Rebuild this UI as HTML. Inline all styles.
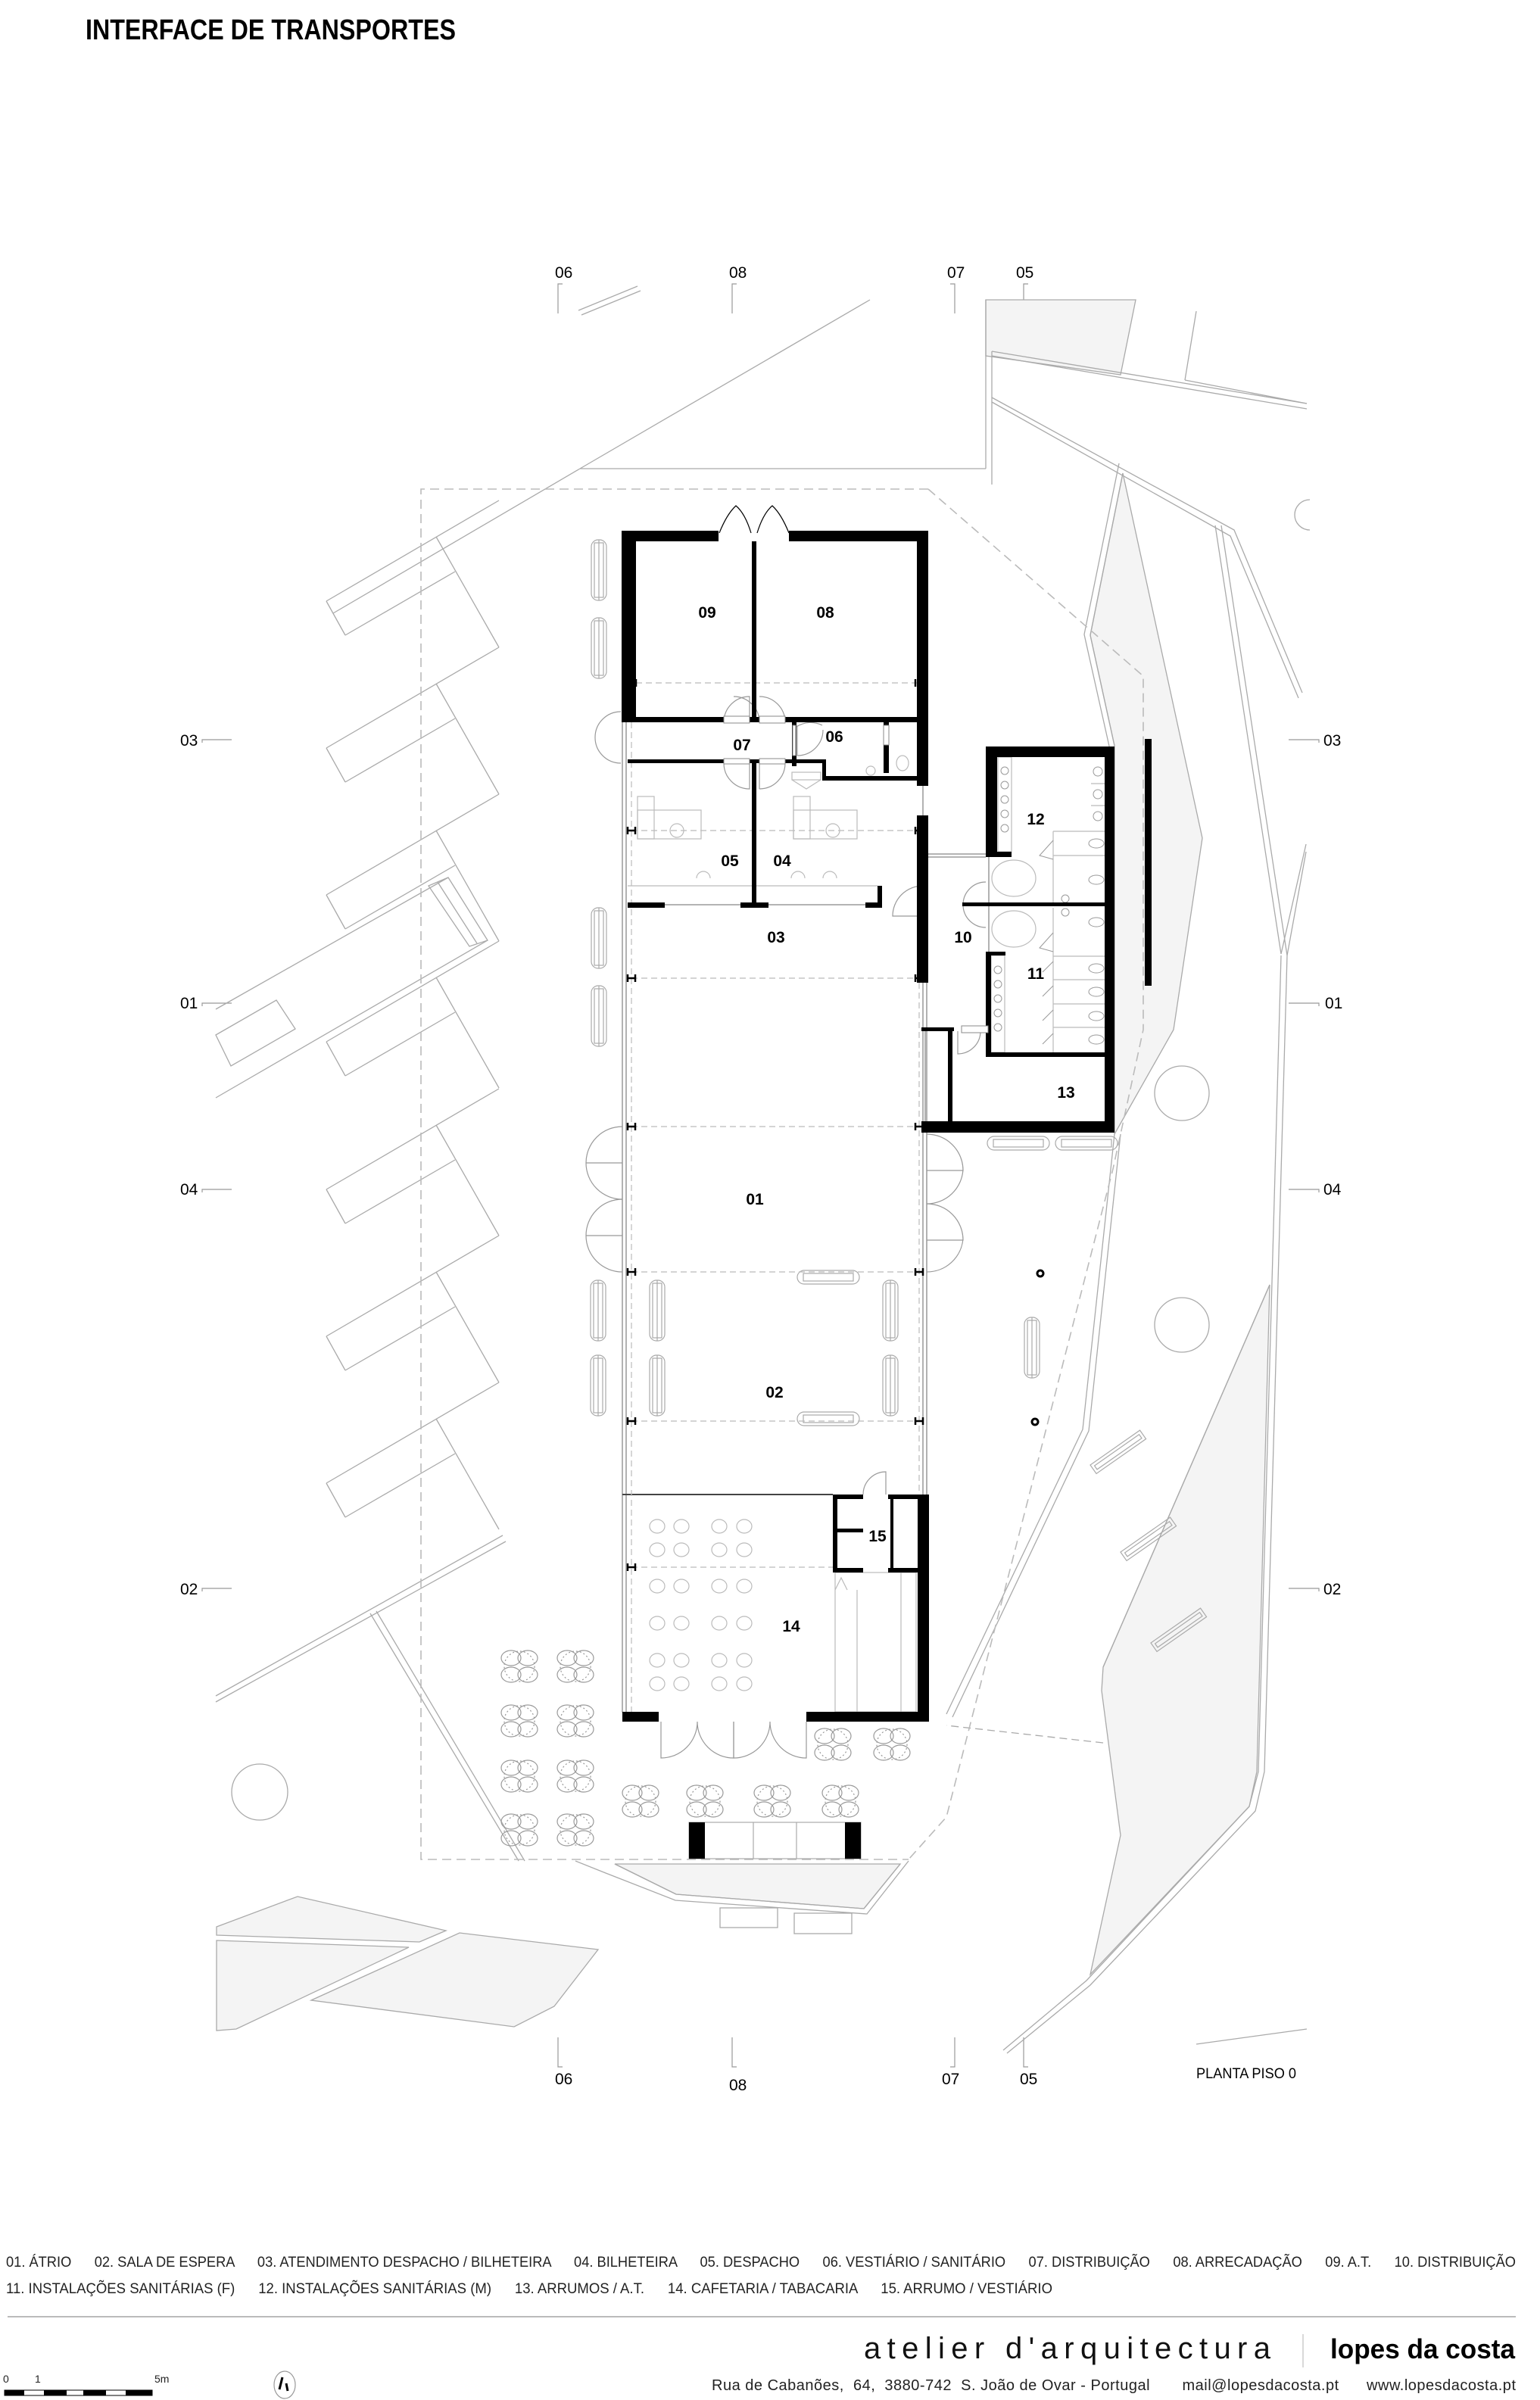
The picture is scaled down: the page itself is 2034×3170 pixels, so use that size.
<!DOCTYPE html>
<html><head><meta charset="utf-8"><style>
html,body{margin:0;padding:0;background:#fff;}
svg{display:block;}
text{font-family:"Liberation Sans",Arial,sans-serif;white-space:pre;}
</style></head><body>
<svg width="2034" height="3170" viewBox="0 0 2034 3170" xmlns="http://www.w3.org/2000/svg" xml:space="preserve">
<defs>
<g id="pk" fill="none" stroke="#aaa" stroke-width="1.3">
<line x1="431" y1="0" x2="659" y2="-133"/><line x1="576" y1="-85" x2="659" y2="61"/>
<line x1="456" y1="45" x2="601" y2="-39"/><line x1="431" y1="0" x2="456" y2="45"/>
</g>
<g id="fl" fill="none" stroke="#999" stroke-width="1.2">
<ellipse cx="-11" cy="-11" rx="13" ry="10"/><ellipse cx="11" cy="-11" rx="13" ry="10"/>
<ellipse cx="-11" cy="11" rx="13" ry="10"/><ellipse cx="11" cy="11" rx="13" ry="10"/>
<ellipse cx="0" cy="0" rx="20" ry="20" stroke-dasharray="2 3"/>
</g>
<g id="tb" fill="none" stroke="#bbb" stroke-width="1.2"><ellipse cx="0" cy="0" rx="10" ry="9"/></g>
<g id="bv" fill="none" stroke="#aaa" stroke-width="1.2"><rect x="-10" y="0" width="20" height="80" rx="9"/><rect x="-6" y="4" width="12" height="72"/><line x1="0" y1="0" x2="0" y2="80"/></g>
<g id="bh" fill="none" stroke="#aaa" stroke-width="1.2"><rect x="0" y="-9" width="82" height="18" rx="9"/><rect x="8" y="-5" width="66" height="10"/></g>
</defs>

<text x="113" y="52" font-size="38" font-weight="bold" textLength="489" lengthAdjust="spacingAndGlyphs">INTERFACE DE TRANSPORTES</text>

<g font-size="21" fill="#000">
<text x="733" y="367">06</text><text x="963" y="367">08</text><text x="1251" y="367">07</text><text x="1342" y="367">05</text>
<text x="733" y="2753">06</text><text x="963" y="2761">08</text><text x="1244" y="2753">07</text><text x="1347" y="2753">05</text>
<text x="238" y="985">03</text><text x="238" y="1332">01</text><text x="238" y="1578">04</text><text x="238" y="2106">02</text>
<text x="1748" y="985">03</text><text x="1750" y="1332">01</text><text x="1748" y="1578">04</text><text x="1748" y="2106">02</text>
</g>
<g stroke="#999" stroke-width="1.2" fill="none">
<polyline points="743,375 737,375 737,414"/><polyline points="973,375 967,375 967,414"/>
<polyline points="1255,375 1261,375 1261,414"/><polyline points="1358,375 1352,375 1352,414"/>
<polyline points="737,2691 737,2730 743,2730"/><polyline points="967,2691 967,2730 973,2730"/>
<polyline points="1261,2691 1261,2730 1255,2730"/><polyline points="1352,2691 1352,2730 1358,2730"/>
<polyline points="267,981 267,977 306,977"/><polyline points="267,1329 267,1325 306,1325"/>
<polyline points="267,1575 267,1571 306,1571"/><polyline points="267,2102 267,2098 306,2098"/>
<polyline points="1702,977 1742,977 1742,981"/><polyline points="1702,1325 1742,1325 1742,1329"/>
<polyline points="1702,1571 1742,1571 1742,1575"/><polyline points="1702,2098 1742,2098 1742,2102"/>
</g>

<g fill="#f4f4f4" stroke="#aaa" stroke-width="1.3">
<polygon points="1302,396 1500,396 1480,495 1302,470"/>
<polygon points="1483,625 1588,1107 1550,1360 1472,1498 1472,985 1440,839"/>
<polygon points="1677,1697 1660,2340 1650,2386 1440,2608 1480,2424 1455,2233 1457,2202"/>
<polygon points="812,2462 1189,2462 1141,2521 893,2502"/>
<polygon points="286,2545 393,2505 589,2550 554,2565 286,2556"/>
<polygon points="286,2563 540,2572 312,2680 286,2682"/>
<polygon points="411,2642 607,2553 790,2575 732,2650 679,2677"/>
</g>

<g fill="none" stroke="#aaa" stroke-width="1.3">
<line x1="1149" y1="396" x2="766" y2="619"/><line x1="766" y1="619" x2="440" y2="810"/>
<line x1="766" y1="619" x2="1302" y2="619"/>
<line x1="1302" y1="396" x2="1302" y2="619"/>
<line x1="1310" y1="464" x2="1310" y2="640"/>
<line x1="768" y1="416" x2="846" y2="384"/><line x1="764" y1="410" x2="842" y2="378"/>
<line x1="1310" y1="464" x2="1726" y2="533"/><line x1="1310" y1="470" x2="1726" y2="540"/>
<polyline points="1310,525 1630,700 1720,915"/><polyline points="1310,531 1625,708 1715,922"/>
<line x1="1580" y1="411" x2="1565" y2="502"/><line x1="1565" y1="502" x2="1726" y2="533"/>
<polyline points="1605,694 1692,1260 1725,1115"/><polyline points="1613,694 1700,1262 1725,1125"/>
<polyline points="1692,1262 1662,2340 1650,2386 1435,2616 1325,2708"/>
<polyline points="1700,1262 1670,2340 1658,2392 1440,2622 1330,2712"/>
<polyline points="1483,625 1440,839 1472,985"/><polyline points="1478,612 1432,838 1466,990"/>
<polyline points="1472,1498 1430,1888 1250,2264"/><polyline points="1480,1498 1438,1890 1258,2268"/>
<polyline points="1457,2202 1677,1697"/>
<line x1="285" y1="2240" x2="664" y2="2028"/><line x1="285" y1="2248" x2="668" y2="2036"/>
<line x1="489" y1="2131" x2="685" y2="2458"/><line x1="497" y1="2128" x2="693" y2="2458"/>
<line x1="285" y1="1333" x2="592" y2="1159"/><line x1="285" y1="1450" x2="644" y2="1242"/>
<polygon points="566,1170 592,1159 644,1242 620,1250"/><line x1="578" y1="1165" x2="630" y2="1246"/>
<polygon points="285,1367 365,1321 390,1359 305,1408"/>
<polyline points="812,2462 893,2502 1141,2521 1189,2462"/>
<polyline points="760,2458 800,2474 892,2510 1145,2528 1200,2458"/>
<rect x="951" y="2520" width="76" height="26"/><rect x="1049" y="2527" width="76" height="27"/>
<polyline points="1580,2700 1726,2680"/>
<line x1="1457" y1="2302" x2="1250" y2="2279" stroke-dasharray="10 6"/>
<path d="M1730,660 a20,20 0 0 0 0,40"/>
</g>
<use href="#pk" y="794"/><use href="#pk" y="988"/><use href="#pk" y="1182"/><use href="#pk" y="1376"/>
<use href="#pk" y="1571"/><use href="#pk" y="1765"/><use href="#pk" y="1959"/>

<g fill="none" stroke="#bbb" stroke-width="1.6" stroke-dasharray="12 7">
<polyline points="1226,646 556,646 556,2456 1200,2456"/>
<polyline points="1226,646 1510,893 1510,1360 1470,1544 1250,2400 1200,2456"/>
</g>

<g fill="none" stroke="#aaa" stroke-width="1.3">
<circle cx="1561" cy="1444" r="36"/><circle cx="1561" cy="1750" r="36"/><circle cx="343" cy="2367" r="37"/>
</g>

<use href="#bv" x="791" y="713"/><use href="#bv" x="791" y="816"/><use href="#bv" x="791" y="1199"/><use href="#bv" x="791" y="1302"/>
<use href="#bv" x="790" y="1691"/><use href="#bv" x="790" y="1790"/>
<use href="#bv" x="868" y="1691"/><use href="#bv" x="868" y="1790"/>
<use href="#bv" x="1176" y="1691"/><use href="#bv" x="1176" y="1790"/>
<use href="#bv" x="1363" y="1740"/>
<use href="#bh" x="1053" y="1687"/><use href="#bh" x="1053" y="1874"/>
<use href="#bh" x="1304" y="1510"/><use href="#bh" x="1394" y="1510"/>
<g fill="none" stroke="#aaa" stroke-width="1.2">
<g transform="translate(1440,1935) rotate(-35)"><rect x="0" y="0" width="80" height="14"/><rect x="4" y="4" width="72" height="6"/></g>
<g transform="translate(1480,2050) rotate(-35)"><rect x="0" y="0" width="80" height="14"/><rect x="4" y="4" width="72" height="6"/></g>
<g transform="translate(1520,2170) rotate(-35)"><rect x="0" y="0" width="80" height="14"/><rect x="4" y="4" width="72" height="6"/></g>
</g>
<g stroke="#000" stroke-width="3" fill="none"><circle cx="1374" cy="1682" r="4"/><circle cx="1367" cy="1878" r="4"/></g>

<g stroke="#888" stroke-width="1.3" fill="none">
<line x1="822" y1="954" x2="822" y2="2262"/><line x1="827" y1="954" x2="827" y2="2262"/>
<line x1="1219" y1="1298" x2="1219" y2="1974"/><line x1="1224" y1="1298" x2="1224" y2="1974"/>
<line x1="1219" y1="1038" x2="1219" y2="1077"/>
<line x1="822" y1="1974" x2="1100" y2="1974" stroke="#444" stroke-width="2"/>
<line x1="878" y1="1195" x2="1143" y2="1195"/>
<line x1="1226" y1="1128" x2="1302" y2="1128"/><line x1="1226" y1="1132" x2="1302" y2="1132"/>
<line x1="1306" y1="1130" x2="1306" y2="1257"/>
<line x1="1222" y1="1362" x2="1222" y2="1481"/>
</g>
<g stroke="#bbb" stroke-width="1.2" stroke-dasharray="8 5" fill="none">
<line x1="840" y1="902" x2="1211" y2="902"/><line x1="834" y1="1097" x2="1214" y2="1097"/>
<line x1="834" y1="1292" x2="1214" y2="1292"/><line x1="834" y1="1488" x2="1214" y2="1488"/>
<line x1="834" y1="1680" x2="1214" y2="1680"/><line x1="834" y1="1877" x2="1214" y2="1877"/>
<line x1="834" y1="2070" x2="1100" y2="2070"/>
<line x1="834" y1="954" x2="834" y2="2262"/><line x1="1214" y1="1298" x2="1214" y2="1974"/>
</g>
<g stroke="#000" stroke-width="2.5">
<path d="M829,1092v10M839,1092v10M829,1097h10 M1209,1092v10M1219,1092v10M1209,1097h10"/>
<path d="M829,1287v10M839,1287v10M829,1292h10 M1209,1287v10M1219,1287v10M1209,1292h10"/>
<path d="M829,1483v10M839,1483v10M829,1488h10 M1209,1483v10M1219,1483v10M1209,1488h10"/>
<path d="M829,1675v10M839,1675v10M829,1680h10 M1209,1675v10M1219,1675v10M1209,1680h10"/>
<path d="M829,1872v10M839,1872v10M829,1877h10 M1209,1872v10M1219,1872v10M1209,1877h10"/>
<path d="M829,2065v10M839,2065v10M829,2070h10"/>
<path d="M840,897v10 M1209,897v10"/>
</g>

<g fill="none" stroke="#999" stroke-width="1.2">
<path d="M822,1488 a48,48 0 0 0 -48,48 h48 M822,1584 a48,48 0 0 1 -48,-48"/>
<path d="M822,1584 a48,48 0 0 0 -48,48 h48 M822,1680 a48,48 0 0 1 -48,-48"/>
<path d="M1224,1498 a48,48 0 0 1 48,48 h-48 M1224,1590 a48,48 0 0 0 48,-46"/>
<path d="M1224,1590 a48,48 0 0 1 48,48 h-48 M1224,1680 a48,48 0 0 0 48,-44"/>
<path d="M873,2274 v48 a48,48 0 0 0 48,-48 M969,2274 v48 a48,48 0 0 1 -48,-48"/>
<path d="M969,2274 v48 a48,48 0 0 0 48,-48 M1065,2274 v48 a48,48 0 0 1 -48,-48"/>
<path d="M956,954 a34,34 0 0 1 34,-34 v34 M1003,954 a34,34 0 0 0 -34,-34"/>
<path d="M1003,920 a34,34 0 0 1 34,34"/>
<path d="M956,1008 a34,34 0 0 0 34,34 v-34 M1003,1042 a34,34 0 0 0 34,-34"/>
<path d="M1003,1008 v34"/>
<path d="M1052,960 a34,34 0 0 1 34,-2 M1053,958 v40 a34,34 0 0 0 34,-34"/>
<path d="M1219,1170 a40,40 0 0 0 -40,40 h40"/>
<path d="M1302,1165 a30,30 0 0 0 -30,30 h30 M1302,1225 a30,30 0 0 1 -30,-30"/>
<path d="M1265,1362 v30 a30,30 0 0 0 30,-30"/>
<path d="M1140,1974 a30,30 0 0 1 30,-30 v30"/>
<path d="M950,704 q10,-25 22,-36 q12,10 20,36 M1042,704 q-10,-25 -22,-36 q-12,10 -20,36" stroke="#000"/>
<path d="M820,940 a34,34 0 0 0 -34,34 M820,1008 a34,34 0 0 1 -34,-34"/>
</g>
<g fill="none" stroke="#bbb" stroke-width="1.2">
<rect x="842" y="1070" width="84" height="38"/><rect x="842" y="1052" width="22" height="56"/><circle cx="894" cy="1097" r="9"/>
<rect x="1048" y="1070" width="84" height="38"/><rect x="1048" y="1052" width="22" height="56"/><circle cx="1100" cy="1097" r="9"/>
<path d="M920,1160 a9,9 0 0 1 18,0 M1045,1160 a9,9 0 0 1 18,0 M1087,1160 a9,9 0 0 1 18,0"/>
<line x1="829" y1="1170" x2="1159" y2="1170"/>
<rect x="1046" y="1020" width="38" height="10"/>
<path d="M1046,1030 l19,12 l19,-12"/>
<circle cx="1150" cy="1018" r="6"/><ellipse cx="1192" cy="1008" rx="8" ry="10"/>
<rect x="1318" y="1000" width="18" height="125"/>
<rect x="1309" y="1262" width="18" height="128"/>
<ellipse cx="1339" cy="1160" rx="29" ry="24"/><ellipse cx="1339" cy="1227" rx="29" ry="24"/>
<line x1="1391" y1="1098" x2="1391" y2="1194"/><line x1="1391" y1="1199" x2="1391" y2="1390"/>
<line x1="1391" y1="1098" x2="1459" y2="1098"/><line x1="1391" y1="1130" x2="1459" y2="1130"/>
<line x1="1391" y1="1263" x2="1459" y2="1263"/><line x1="1391" y1="1294" x2="1459" y2="1294"/>
<line x1="1391" y1="1326" x2="1459" y2="1326"/><line x1="1391" y1="1357" x2="1459" y2="1357"/>
<line x1="1441" y1="1035" x2="1459" y2="1035"/><line x1="1441" y1="1064" x2="1459" y2="1064"/>
</g>
<g fill="none" stroke="#999" stroke-width="1">
<circle cx="1327" cy="1018" r="5"/><circle cx="1327" cy="1037" r="5"/><circle cx="1327" cy="1056" r="5"/><circle cx="1327" cy="1075" r="5"/><circle cx="1327" cy="1094" r="5"/>
<circle cx="1318" cy="1281" r="5"/><circle cx="1318" cy="1300" r="5"/><circle cx="1318" cy="1319" r="5"/><circle cx="1318" cy="1338" r="5"/><circle cx="1318" cy="1357" r="5"/>
<circle cx="1450" cy="1019" r="6"/><circle cx="1450" cy="1049" r="6"/><circle cx="1450" cy="1078" r="6"/>
<ellipse cx="1448" cy="1114" rx="10" ry="6"/><ellipse cx="1448" cy="1162" rx="10" ry="6"/><ellipse cx="1448" cy="1218" rx="10" ry="6"/>
<ellipse cx="1448" cy="1279" rx="10" ry="6"/><ellipse cx="1448" cy="1310" rx="10" ry="6"/><ellipse cx="1448" cy="1342" rx="10" ry="6"/><ellipse cx="1448" cy="1373" rx="10" ry="6"/>
<circle cx="1407" cy="1187" r="5"/><circle cx="1407" cy="1205" r="5"/>
<path d="M1391,1110 l-18,20 l18,5 M1391,1232 l-18,20 l18,5 M1391,1270 l-14,14 M1391,1302 l-14,14 M1391,1334 l-14,14 M1391,1365 l-14,14"/>
</g>
<g>
<use href="#tb" x="868" y="2016"/><use href="#tb" x="900" y="2016"/><use href="#tb" x="950" y="2016"/><use href="#tb" x="983" y="2016"/>
<use href="#tb" x="868" y="2047"/><use href="#tb" x="900" y="2047"/><use href="#tb" x="950" y="2047"/><use href="#tb" x="983" y="2047"/>
<use href="#tb" x="868" y="2095"/><use href="#tb" x="900" y="2095"/><use href="#tb" x="950" y="2095"/><use href="#tb" x="983" y="2095"/>
<use href="#tb" x="868" y="2144"/><use href="#tb" x="900" y="2144"/><use href="#tb" x="950" y="2144"/><use href="#tb" x="983" y="2144"/>
<use href="#tb" x="868" y="2193"/><use href="#tb" x="900" y="2193"/><use href="#tb" x="950" y="2193"/><use href="#tb" x="983" y="2193"/>
<use href="#tb" x="868" y="2224"/><use href="#tb" x="900" y="2224"/><use href="#tb" x="950" y="2224"/><use href="#tb" x="983" y="2224"/>
</g>
<g fill="none" stroke="#bbb" stroke-width="1.2">
<rect x="1103" y="2077" width="107" height="184"/><line x1="1132" y1="2100" x2="1132" y2="2261"/>
<path d="M1103,2100 l8,-16 l8,16"/><line x1="1190" y1="2077" x2="1190" y2="2261"/>
</g>
<use href="#fl" x="686" y="2201"/><use href="#fl" x="760" y="2201"/>
<use href="#fl" x="686" y="2273"/><use href="#fl" x="760" y="2273"/>
<use href="#fl" x="686" y="2346"/><use href="#fl" x="760" y="2346"/>
<use href="#fl" x="686" y="2417"/><use href="#fl" x="760" y="2417"/>
<use href="#fl" x="846" y="2379"/><use href="#fl" x="931" y="2379"/><use href="#fl" x="1020" y="2379"/><use href="#fl" x="1110" y="2379"/>
<use href="#fl" x="1100" y="2304"/><use href="#fl" x="1178" y="2304"/>
<g fill="none" stroke="#aaa" stroke-width="1.2">
<rect x="910" y="2407" width="227" height="48"/><line x1="995" y1="2407" x2="995" y2="2455"/><line x1="1052" y1="2407" x2="1052" y2="2455"/>
</g>
<rect x="910" y="2407" width="21" height="48" fill="#000"/><rect x="1116" y="2407" width="21" height="48" fill="#000"/>

<g fill="#000">
<rect x="821" y="701" width="19" height="253"/>
<rect x="821" y="701" width="128" height="14"/>
<rect x="1042" y="701" width="184" height="14"/>
<rect x="1211" y="701" width="15" height="337"/>
<rect x="993" y="715" width="6" height="232"/>
<rect x="840" y="947" width="371" height="7"/>
<rect x="829" y="1003" width="217" height="5"/>
<rect x="1046" y="947" width="6" height="65"/>
<rect x="1046" y="1003" width="45" height="5"/>
<rect x="1086" y="1003" width="5" height="28"/>
<rect x="1086" y="1025" width="140" height="6"/>
<rect x="1167" y="954" width="7" height="67"/>
<rect x="993" y="1008" width="6" height="187"/>
<rect x="829" y="1192" width="49" height="7"/>
<rect x="978" y="1192" width="37" height="7"/>
<rect x="1143" y="1192" width="22" height="7"/>
<rect x="1159" y="1170" width="6" height="29"/>
<rect x="1211" y="1077" width="15" height="221"/>
<rect x="1302" y="986" width="170" height="14"/>
<rect x="1302" y="986" width="15" height="146"/>
<rect x="1302" y="1125" width="34" height="7"/>
<rect x="1459" y="986" width="13" height="510"/>
<rect x="1271" y="1192" width="188" height="5"/>
<rect x="1302" y="1257" width="7" height="138"/>
<rect x="1302" y="1257" width="26" height="5"/>
<rect x="1302" y="1390" width="157" height="6"/>
<rect x="1217" y="1357" width="43" height="5"/>
<rect x="1252" y="1357" width="6" height="124"/>
<rect x="1217" y="1481" width="255" height="15"/>
<rect x="1512" y="976" width="9" height="326"/>
<rect x="1100" y="1974" width="40" height="6"/>
<rect x="1173" y="1974" width="54" height="6"/>
<rect x="1100" y="1974" width="6" height="103"/>
<rect x="1100" y="2071" width="40" height="6"/>
<rect x="1173" y="2071" width="39" height="6"/>
<rect x="1176" y="1974" width="4" height="100"/>
<rect x="1106" y="2019" width="34" height="5"/>
<rect x="1212" y="1974" width="15" height="300"/>
<rect x="822" y="2261" width="48" height="13"/>
<rect x="1065" y="2261" width="162" height="13"/>
</g>
<g fill="#fff" stroke="#888" stroke-width="1">
<rect x="956" y="946" width="34" height="9"/><rect x="1003" y="946" width="34" height="9"/>
<rect x="956" y="1002" width="34" height="7"/><rect x="1003" y="1002" width="34" height="7"/>
<rect x="1047" y="958" width="4" height="40"/><rect x="1167" y="958" width="7" height="26"/>
<rect x="1270" y="1355" width="35" height="9"/>
</g>

<g font-size="21" font-weight="bold" fill="#000" text-anchor="middle">
<text x="934" y="816">09</text><text x="1090" y="816">08</text>
<text x="980" y="991">07</text><text x="1102" y="980">06</text>
<text x="964" y="1144">05</text><text x="1033" y="1144">04</text>
<text x="1025" y="1245">03</text><text x="1272" y="1245">10</text>
<text x="1368" y="1089">12</text><text x="1368" y="1293">11</text><text x="1408" y="1450">13</text>
<text x="997" y="1591">01</text><text x="1023" y="1846">02</text>
<text x="1159" y="2036">15</text><text x="1045" y="2155">14</text>
</g>

<text x="1580" y="2745" font-size="19" textLength="132" lengthAdjust="spacingAndGlyphs">PLANTA PISO 0</text>

<g font-size="19" fill="#222">
<text x="8" y="2994" textLength="1994" lengthAdjust="spacingAndGlyphs">01. ÁTRIO      02. SALA DE ESPERA      03. ATENDIMENTO DESPACHO / BILHETEIRA      04. BILHETEIRA      05. DESPACHO      06. VESTIÁRIO / SANITÁRIO      07. DISTRIBUIÇÃO      08. ARRECADAÇÃO      09. A.T.      10. DISTRIBUIÇÃO</text>
<text x="8" y="3029" textLength="1382" lengthAdjust="spacingAndGlyphs">11. INSTALAÇÕES SANITÁRIAS (F)      12. INSTALAÇÕES SANITÁRIAS (M)      13. ARRUMOS / A.T.      14. CAFETARIA / TABACARIA      15. ARRUMO / VESTIÁRIO</text>
</g>
<line x1="10" y1="3060" x2="2002" y2="3060" stroke="#bbb" stroke-width="2"/>

<text x="1141" y="3115" font-size="40" fill="#111" textLength="545" lengthAdjust="spacing" letter-spacing="8">atelier d'arquitectura</text>
<line x1="1721" y1="3083" x2="1721" y2="3127" stroke="#ccc" stroke-width="1.5"/>
<text x="1757" y="3115" font-size="36" font-weight="bold" fill="#000" textLength="244" lengthAdjust="spacingAndGlyphs">lopes da costa</text>
<text x="940" y="3157" font-size="20" fill="#222" textLength="1062" lengthAdjust="spacing">Rua de Cabanões,  64,  3880-742  S. João de Ovar - Portugal       mail@lopesdacosta.pt      www.lopesdacosta.pt</text>

<g font-size="14" fill="#222"><text x="4" y="3147">0</text><text x="46" y="3147">1</text><text x="204" y="3147">5m</text></g>
<g fill="#000"><rect x="6" y="3157" width="26" height="7"/><rect x="58" y="3157" width="30" height="7"/><rect x="110" y="3157" width="30" height="7"/><rect x="166" y="3157" width="35" height="7"/></g>
<rect x="6" y="3157" width="195" height="7" fill="none" stroke="#000" stroke-width="1"/>
<ellipse cx="376" cy="3150" rx="14" ry="18" fill="none" stroke="#999" stroke-width="1.2"/>
<path d="M373,3140 l-4,16 M378,3148 l2,10" stroke="#000" stroke-width="3"/>
</svg>
</body></html>
